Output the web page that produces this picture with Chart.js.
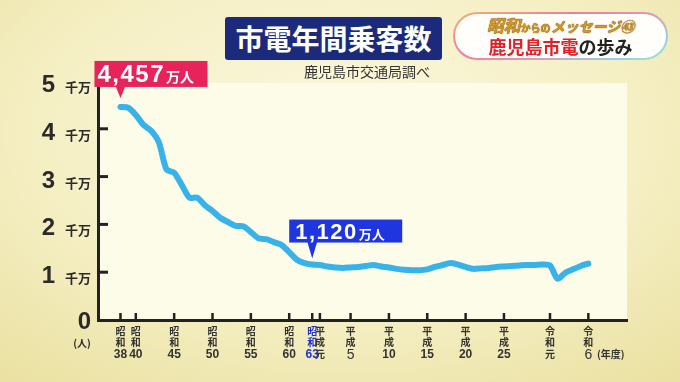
<!DOCTYPE html>
<html>
<head>
<meta charset="utf-8">
<script src="https://cdn.jsdelivr.net/npm/chart.js@4.4.1/dist/chart.umd.min.js"></script>
<style>
  html, body { margin: 0; padding: 0; }
  body {
    width: 680px; height: 382px; overflow: hidden; position: relative;
    background: radial-gradient(ellipse 80% 85% at 50% 35%, #fbf8de 0%, #f5efc4 55%, #eae0a0 100%);
    font-family: "Noto Sans CJK JP", sans-serif;
  }
  #myChart { position: absolute; left: 0; top: 0; }
  .title {
    position: absolute; left: 225px; top: 17px; width: 217px; height: 43px;
    background: #1c2a7c; border-radius: 3px; color: #fff;
    font-weight: 700; font-size: 28px; line-height: 43px; text-align: center;
  }
  .src { position: absolute; left: 304px; top: 61px; font-size: 14px; color: #333; line-height: 20px; }
  .badge {
    position: absolute; left: 453px; top: 12px; width: 215px; height: 48px;
    border-radius: 24px; padding: 2px; box-sizing: border-box;
    background: linear-gradient(160deg, #f4b070 0%, #ef7f9c 35%, #e98fb0 55%, #8fd3ea 85%, #a6e2cf 100%);
  }
  .badge .in { position: relative; background: #fffefa; border-radius: 22px; width: 100%; height: 100%; }
  .l1 { position: absolute; left: 0; right: 0; top: 1px; text-align: center; line-height: 20px;
        color: #d29a22; font-weight: 700; white-space: nowrap;
        text-shadow: 0 0 1px #7a4a10, 0 0 1px #7a4a10; }
  .l1 .big { font-size: 17px; font-style: italic; }
  .l1 .sm { font-size: 10px; }
  .l1 .md { font-size: 14px; font-style: italic; }
  .l2 { position: absolute; left: 0; right: 0; top: 20px; text-align: center; line-height: 24px;
        font-size: 18px; font-weight: 700; color: #222; white-space: nowrap; }
  .l2 .red { color: #e0202a; }
</style>
</head>
<body>
<canvas id="myChart" width="680" height="382"></canvas>
<div class="title">市電年間乗客数</div>
<div class="src">鹿児島市交通局調べ</div>
<div class="badge"><div class="in">
  <div class="l1"><span class="big">昭和</span><span class="sm">からの</span><span class="md">メッセージ</span><span class="md">㊸</span></div>
  <div class="l2"><span class="red">鹿児島市電</span>の歩み</div>
</div></div>
<script>
// annual riders, unit: 万人
const years = [1963, 1964, 1965, 1966, 1967, 1968, 1969, 1970, 1971, 1972,
  1973, 1974, 1975, 1976, 1977, 1978, 1979, 1980, 1981, 1982,
  1983, 1984, 1985, 1986, 1987, 1988, 1989, 1990, 1991, 1992,
  1993, 1994, 1995, 1996, 1997, 1998, 1999, 2000, 2001, 2002,
  2003, 2004, 2005, 2006, 2007, 2008, 2009, 2010, 2011, 2012,
  2013, 2014, 2015, 2016, 2017, 2018, 2019, 2020, 2021, 2022,
  2023, 2024];
const riders = [4457, 4440, 4290, 4080, 3960, 3720, 3150, 3080, 2820, 2560,
  2560, 2400, 2280, 2140, 2050, 1970, 1960, 1840, 1710, 1690,
  1630, 1570, 1420, 1260, 1190, 1160, 1150, 1120, 1100, 1090,
  1100, 1110, 1130, 1150, 1120, 1100, 1070, 1050, 1040, 1040,
  1060, 1110, 1150, 1190, 1160, 1110, 1070, 1080, 1090, 1110,
  1120, 1130, 1140, 1150, 1150, 1160, 1140, 860, 990, 1060,
  1130, 1180];

// x axis labels
const tickYears = [1963, 1965, 1970, 1975, 1980, 1985, 1988, 1989, 1993, 1998, 2003, 2008, 2013, 2019, 2024];
const tickLabels = [
  ['昭', '和', '38'], ['昭', '和', '40'], ['昭', '和', '45'], ['昭', '和', '50'],
  ['昭', '和', '55'], ['昭', '和', '60'], ['昭', '和', '63'], ['平', '成', '元'],
  ['平', '成', '5'], ['平', '成', '10'], ['平', '成', '15'], ['平', '成', '20'],
  ['平', '成', '25'], ['令', '和', '元'], ['令', '和', '6']
];
const blueYear = 1988;

// y axis labels
const yTicks = [0, 1000, 2000, 3000, 4000, 5000];
const yTickLabels = ['0', '1', '2', '3', '4', '5'];
const yUnit = '千万';

// callouts
const calloutYears = [1963, 1988];
const calloutNums = ['4,457', '1,120'];
const calloutUnit = '万人';

const cjk = '"Noto Sans CJK JP", sans-serif';
const latin = '"Liberation Sans", Arial, sans-serif';

function valueAt(year) {
  return riders[years.indexOf(year)];
}

const deco = {
  id: 'deco',
  beforeDraw(chart) {
    const { ctx, chartArea: a } = chart;
    ctx.save();
    ctx.fillStyle = '#fdfce9';
    ctx.fillRect(a.left, a.top - 3, a.right - a.left, a.bottom - a.top + 3);
    ctx.restore();
  },
  afterDraw(chart) {
    const { ctx, chartArea: a } = chart;
    const xs = chart.scales.x, ys = chart.scales.y;
    ctx.save();
    ctx.strokeStyle = '#222';
    ctx.fillStyle = '#2a2a2a';

    // y ticks + labels
    yTicks.forEach((v, i) => {
      const y = ys.getPixelForValue(v);
      if (v > 0 && v < 5000) {
        ctx.lineWidth = 3;
        ctx.beginPath(); ctx.moveTo(a.left, y); ctx.lineTo(a.left + 10, y); ctx.stroke();
      }
      ctx.textBaseline = 'alphabetic';
      ctx.textAlign = 'right';
      if (v === 0) {
        ctx.font = 'bold 24px ' + latin;
        ctx.fillText(yTickLabels[i], 91, y + 9);
      } else {
        ctx.font = 'bold 13px ' + cjk;
        ctx.fillText(yUnit, 91, y + 11);
        ctx.font = 'bold 24px ' + latin;
        ctx.fillText(yTickLabels[i], 55, y + 11);
      }
    });
    ctx.font = 'bold 10px ' + cjk;
    ctx.textAlign = 'center';
    ctx.fillText('(人)', 82, 347);

    // x ticks + labels
    xs.ticks.forEach((t) => {
      const x = xs.getPixelForValue(t.value);
      ctx.lineWidth = 2.5;
      ctx.strokeStyle = '#222';
      ctx.beginPath(); ctx.moveTo(x, a.bottom); ctx.lineTo(x, a.bottom - 7); ctx.stroke();
      const lab = tickLabels[tickYears.indexOf(t.value)];
      ctx.fillStyle = t.value === blueYear ? '#2233cc' : '#333';
      ctx.textAlign = 'center';
      ctx.textBaseline = 'middle';
      ctx.font = 'bold 10px ' + cjk;
      ctx.fillText(lab[0], x, 331.5);
      ctx.fillText(lab[1], x, 342.5);
      if (/^\d$/.test(lab[2])) {
        ctx.font = '14px ' + latin;
        ctx.fillText(lab[2], x, 355);
      } else if (/^\d+$/.test(lab[2])) {
        ctx.font = 'bold 12px "Liberation Sans Narrow", ' + latin;
        ctx.fillText(lab[2], x, 355);
      } else {
        ctx.font = 'bold 10px ' + cjk;
        ctx.fillText(lab[2], x, 354.5);
      }
    });
    ctx.fillStyle = '#333';
    ctx.textAlign = 'left';
    ctx.font = 'bold 10px ' + cjk;
    ctx.fillText('(年度)', 597, 354.5);

    // callouts
    const styles = [
      { color: '#e8225a', dx: -26, w: 113, h: 26, gap: 9, tri: 11, numFont: 24, unitFont: 14, tx: 3, base: 5 },
      { color: '#1f35df', dx: -23, w: 113, h: 23, gap: 6, tri: 16, numFont: 22, unitFont: 13, tx: 6, base: 3.5 }
    ];
    calloutYears.forEach((yr, i) => {
      const s = styles[i];
      const tx = xs.getPixelForValue(yr);
      const ty = ys.getPixelForValue(valueAt(yr)) - s.gap;
      const bottom = ty - s.tri;
      const left = tx + s.dx;
      ctx.fillStyle = s.color;
      ctx.fillRect(left, bottom - s.h, s.w, s.h);
      ctx.beginPath();
      ctx.moveTo(tx - 5, bottom - 1); ctx.lineTo(tx + 5, bottom - 1); ctx.lineTo(tx, ty); ctx.closePath();
      ctx.fill();
      ctx.fillStyle = '#fff';
      ctx.textAlign = 'left';
      ctx.textBaseline = 'alphabetic';
      ctx.font = 'bold ' + s.numFont + 'px ' + latin;
      ctx.letterSpacing = '1.5px';
      ctx.fillText(calloutNums[i], left + s.tx, bottom - s.base);
      const w = ctx.measureText(calloutNums[i]).width;
      ctx.letterSpacing = '0px';
      ctx.font = 'bold ' + s.unitFont + 'px ' + cjk;
      ctx.fillText(calloutUnit, left + s.tx + w + 1, bottom - s.base);
    });
    ctx.restore();
  }
};

const config = {
  type: 'line',
  data: {
    datasets: [{
      data: years.map((y, i) => ({ x: y, y: riders[i] })),
      borderColor: '#37b3ea',
      borderWidth: 6,
      tension: 0.25,
      pointRadius: 0,
      borderCapStyle: 'round',
      borderJoinStyle: 'round',
      clip: false
    }]
  },
  options: {
    responsive: false,
    devicePixelRatio: 1,
    animation: false,
    layout: { padding: { left: 98, right: 53, top: 86, bottom: 62 } },
    plugins: { legend: { display: false }, tooltip: { enabled: false } },
    scales: {
      x: {
        type: 'linear', min: 1960.07, max: 2029.04,
        afterBuildTicks: (s) => { s.ticks = tickYears.map(v => ({ value: v })); },
        grid: { display: false, drawTicks: false },
        ticks: { display: false },
        border: { display: true, color: '#222', width: 3 }
      },
      y: {
        min: 0, max: 4895,
        afterBuildTicks: (s) => { s.ticks = yTicks.map(v => ({ value: v })); },
        grid: { display: false, drawTicks: false },
        ticks: { display: false },
        border: { display: true, color: '#222', width: 3 }
      }
    }
  },
  plugins: [deco]
};

var myChart = new Chart(document.getElementById('myChart'), config);
</script>
</body>
</html>
